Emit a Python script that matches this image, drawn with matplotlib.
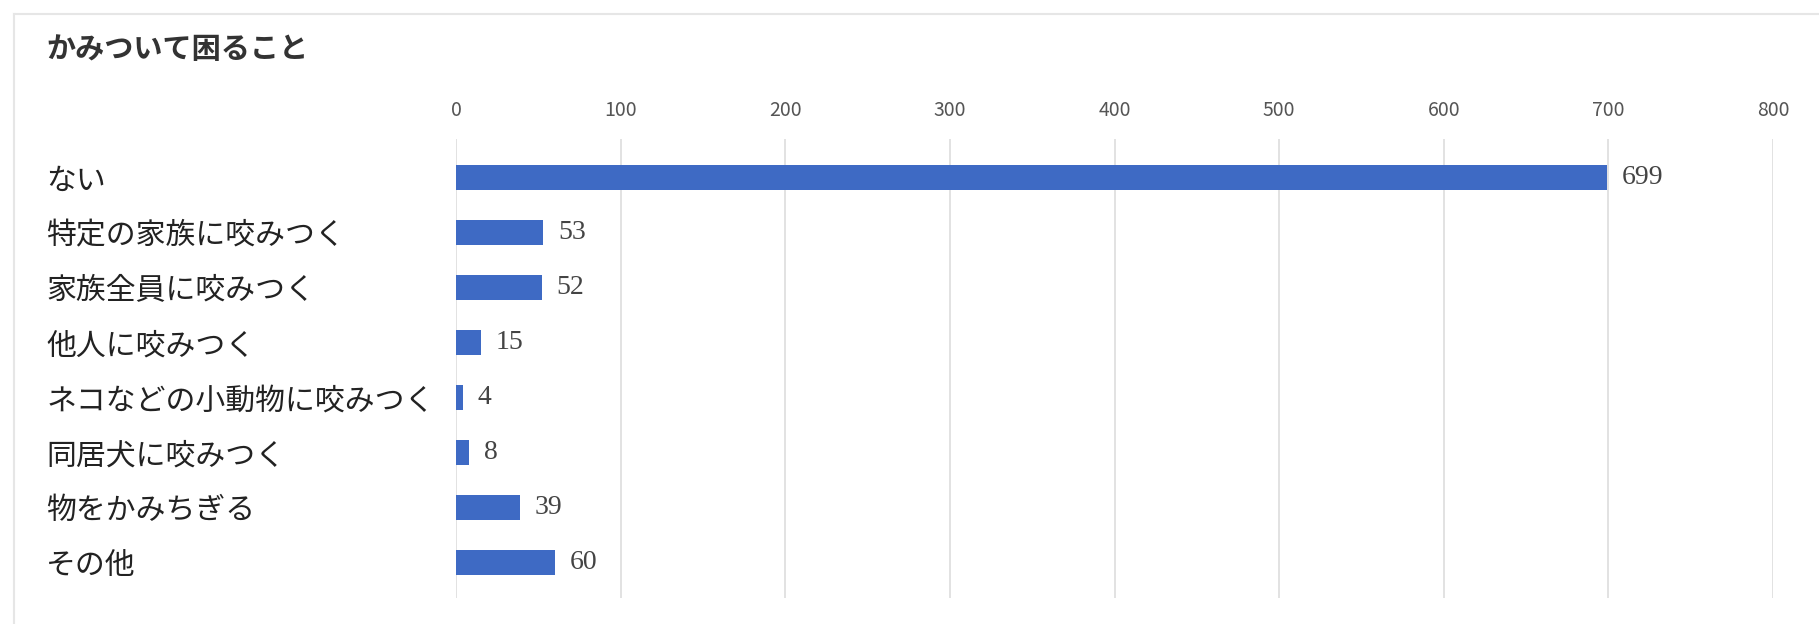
import matplotlib.pyplot as plt
from matplotlib.lines import Line2D

plt.rcParams['font.family'] = ['Noto Sans CJK JP', 'DejaVu Sans']

title = 'かみついて困ること'
categories = ['ない', '特定の家族に咬みつく', '家族全員に咬みつく', '他人に咬みつく',
              'ネコなどの小動物に咬みつく', '同居犬に咬みつく', '物をかみちぎる', 'その他']
counts = [699, 53, 52, 15, 4, 8, 39, 60]
x_ticks = [0, 100, 200, 300, 400, 500, 600, 700, 800]


def main():
    fig = plt.figure(figsize=(18.19, 6.24), dpi=100)
    ax = fig.add_axes([0.2507, 0.0417, 0.724, 0.7355])

    positions = list(range(len(categories)))
    ax.barh(positions, counts, height=0.45, color='#3e6ac4', zorder=3)

    for pos, val in zip(positions, counts):
        ax.text(val + 9, pos, str(val), va='center', ha='left', fontsize=20,
                family=['Liberation Serif'], color='#444444')

    ax.set_xlim(0, 800)
    ax.set_ylim(len(categories) - 0.35, -0.7)
    ax.set_xticks(x_ticks)
    ax.xaxis.tick_top()
    ax.tick_params(axis='x', length=0, pad=13, labelsize=14, labelcolor='#555555')

    ax.set_yticks(positions)
    ax.set_yticklabels(categories, fontsize=21.5, color='#222222')
    ax.tick_params(axis='y', length=0, pad=295)
    for lbl in ax.get_yticklabels():
        lbl.set_horizontalalignment('left')

    ax.grid(axis='x', color='#dddddd', linewidth=1.2, zorder=0)
    for side in ax.spines.values():
        side.set_visible(False)

    fig.text(46 / 1819, 1 - 49 / 624, title, fontsize=21, color='#333333',
             va='center', ha='left', weight='bold')

    # light frame around the chart
    fig.add_artist(Line2D([14 / 1819, 1], [1 - 14 / 624, 1 - 14 / 624],
                          color='#e6e6e6', linewidth=1.5))
    fig.add_artist(Line2D([14 / 1819, 14 / 1819], [1 - 14 / 624, 0.0],
                          color='#e6e6e6', linewidth=1.5))

    fig.savefig('out.png', dpi=100)


if __name__ == "__main__":
    main()
